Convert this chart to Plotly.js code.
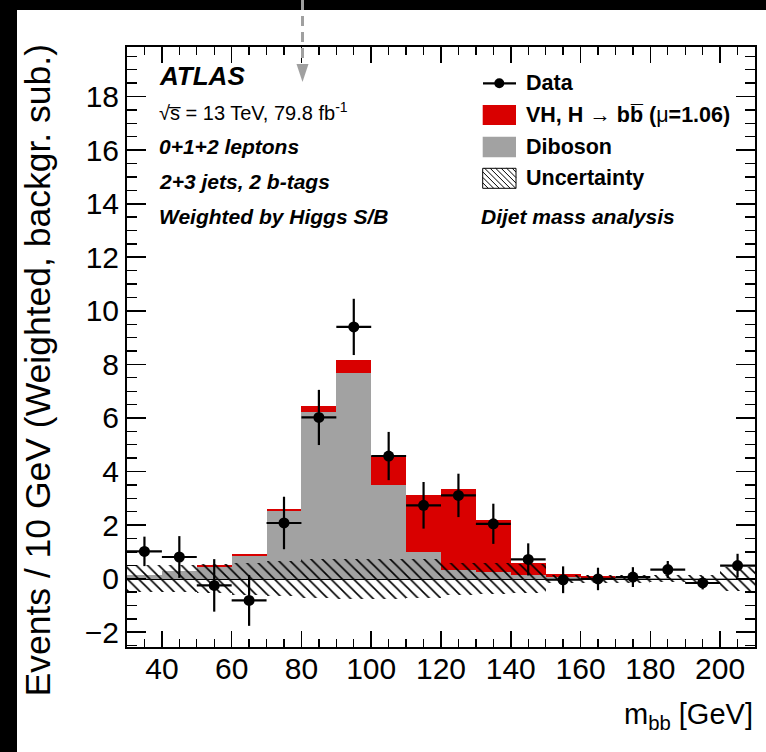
<!DOCTYPE html>
<html><head><meta charset="utf-8">
<script src="https://cdn.plot.ly/plotly-3.0.1.min.js"></script>
<style>html,body{margin:0;padding:0;background:#000;overflow:hidden}#chart{width:766px;height:752px}</style>
</head><body><div id="chart"></div>
<script>
// ---- data ----
const binCenters = [35,45,55,65,75,85,95,105,115,125,135,145,155,165,175,185,195,205];
const binWidths  = [10,10,10,10,10,10,10,10,10,10,10,10,10,10,10,10,10,10];
const diboson    = [0.12,0.27,0.44,0.85,2.53,6.23,7.68,3.49,0.99,0.31,0.25,0.12,0.05,0.03,0.02,0.01,0.01,0.01];
const vhSignal   = [0.02,0.03,0.06,0.07,0.09,0.21,0.50,1.09,2.12,3.05,1.93,0.46,0.14,0.07,0.03,0.02,0.01,0.01];
const uncertainty= [0.50,0.50,0.55,0.60,0.65,0.72,0.75,0.75,0.72,0.60,0.58,0.55,0.15,0.15,0.15,0.12,0.15,0.45];
const dataValues = [1.02,0.81,-0.25,-0.81,2.08,6.02,9.40,4.58,2.74,3.11,2.05,0.72,-0.04,-0.01,0.06,0.34,-0.16,0.49];
const dataErrors = [0.55,0.78,0.98,0.95,0.98,1.03,1.05,0.90,0.87,0.81,0.75,0.60,0.50,0.42,0.37,0.32,0.24,0.44];
const halfBin    = binWidths.map(w => w/2);
const uncLow     = uncertainty.map(u => -u);
const uncSpan    = uncertainty.map(u => 2*u);
const vhBase     = diboson.slice();

const FONT = 'Liberation Sans, Arial, Helvetica, sans-serif';
const RED = '#d90000', GRAY = '#a2a2a2';

// pixel -> paper helpers for decorations
const L = 127, T = 47, W = 628, H = 600;
const px = x => (x - L) / W;
const py = y => (T + H - y) / H;

const traces = [
  {type:'bar', x:binCenters, y:diboson, width:binWidths, base:0,
   marker:{color:GRAY, line:{width:0}}, name:'Diboson', hoverinfo:'skip'},
  {type:'bar', x:binCenters, y:vhSignal, width:binWidths, base:vhBase,
   marker:{color:RED, line:{width:0}}, name:'VH, H → bb', hoverinfo:'skip'},
  {type:'bar', x:binCenters, y:uncSpan, width:binWidths, base:uncLow,
   marker:{color:'rgba(0,0,0,0)', line:{width:0},
     pattern:{shape:'\\', size:8, solidity:0.2, fgcolor:'#000', fgopacity:1,
              bgcolor:'rgba(0,0,0,0)', fillmode:'overlay'}},
   name:'Uncertainty', hoverinfo:'skip'},
  {type:'scatter', mode:'markers', x:binCenters, y:dataValues,
   marker:{color:'#000', size:11},
   error_y:{type:'data', array:dataErrors, visible:true, color:'#000', thickness:2.2, width:0},
   error_x:{type:'data', array:halfBin, visible:true, color:'#000', thickness:2.2, width:0},
   name:'Data'}
];

// legend hatch box lines
function hatchPath(x0, y0, x1, y1, step) {
  const w = x1 - x0, h = y1 - y0;
  let p = '';
  for (let d = -h; d < w; d += step) {
    let sx = x0 + d, sy = y0, ex = x0 + d + h, ey = y1;
    if (sx < x0) { sy = y0 + (x0 - sx); sx = x0; }
    if (ex > x1) { ey = y1 - (ex - x1); ex = x1; }
    p += 'M' + px(sx) + ',' + py(sy) + 'L' + px(ex) + ',' + py(ey);
  }
  return p;
}

const shapes = [
  {type:'rect', xref:'paper', yref:'paper', x0:px(17), x1:px(770), y0:py(10), y1:py(760),
   fillcolor:'#fff', line:{width:0}, layer:'below'},
  {type:'line', xref:'paper', yref:'paper', x0:px(302.5), x1:px(302.5), y0:py(0), y1:py(66),
   line:{color:'#a0a0a0', width:3, dash:'10px,6px'}},
  {type:'path', xref:'paper', yref:'paper',
   path:'M'+px(296.5)+','+py(64)+'L'+px(308.5)+','+py(64)+'L'+px(302.5)+','+py(82)+'Z',
   fillcolor:'#a0a0a0', line:{width:0}},
  {type:'line', xref:'paper', yref:'paper', x0:px(483), x1:px(516), y0:py(83.3), y1:py(83.3),
   line:{color:'#000', width:2.2}},
  {type:'circle', xref:'paper', yref:'paper', x0:px(494.3), x1:px(504.3), y0:py(78.3), y1:py(88.3),
   fillcolor:'#000', line:{width:0}},
  {type:'rect', xref:'paper', yref:'paper', x0:px(482.7), x1:px(516), y0:py(105), y1:py(125),
   fillcolor:RED, line:{width:0}},
  {type:'rect', xref:'paper', yref:'paper', x0:px(482.7), x1:px(516), y0:py(136.7), y1:py(157.3),
   fillcolor:GRAY, line:{width:0}},
  {type:'path', xref:'paper', yref:'paper', path:hatchPath(482.7,168.3,516,188.3,5.5),
   line:{color:'#000', width:1}},
  {type:'rect', xref:'paper', yref:'paper', x0:px(482.7), x1:px(516), y0:py(168.3), y1:py(188.3),
   fillcolor:'rgba(0,0,0,0)', line:{color:'#000', width:1}}
];

function txt(text, x, y, size, opts) {
  return Object.assign({text:text, xref:'paper', yref:'paper', x:px(x), y:py(y),
    xanchor:'left', yanchor:'middle', showarrow:false,
    font:{family:FONT, size:size, color:'#000'}}, opts||{});
}

const annotations = [
  txt('<b><i>ATLAS</i></b>', 157, 76, 26),
  txt('√s\u0305 = 13 TeV, 79.8 fb<sup>-1</sup>', 157, 112, 20),
  txt('<b><i>0+1+2 leptons</i></b>', 157, 147, 21),
  txt('<b><i>2+3 jets, 2 b-tags</i></b>', 157, 181.5, 21),
  txt('<b><i>Weighted by Higgs S/B</i></b>', 157, 216.5, 21),
  txt('<b>Data</b>', 524, 83, 21.5),
  txt('<b>VH, H </b>→<b> bb\u0305 (</b>μ<b>=1.06)</b>', 524, 115, 21.5),
  txt('<b>Diboson</b>', 524, 147, 21.5),
  txt('<b>Uncertainty</b>', 524, 177.5, 21.5),
  txt('<b><i>Dijet mass analysis</i></b>', 479, 216.5, 21),
  txt('Events / 10 GeV (Weighted, backgr. sub.)', 37, 42, 35.5,
      {xanchor:'center', yanchor:'top', textangle:-90}),
  txt('m<sub>bb</sub> [GeV]', 755, 716, 29, {xanchor:'right', yanchor:'middle'})
];

const layout = {
  width:766, height:752,
  margin:{l:L, r:766-L-W, t:T, b:752-T-H, pad:0, autoexpand:false},
  paper_bgcolor:'#000', plot_bgcolor:'#fff',
  barmode:'overlay', bargap:0, showlegend:false,
  font:{family:FONT, color:'#000'},
  xaxis:{range:[30,210], tick0:0, dtick:20, ticks:'inside', ticklen:16, tickwidth:1.6,
    tickcolor:'#000', showline:true, linecolor:'#000', linewidth:2, mirror:'ticks',
    showgrid:false, zeroline:false, tickfont:{family:FONT, size:30, color:'#000'},
    ticklabelstandoff:-6,
    minor:{dtick:5, ticks:'inside', ticklen:8, tickwidth:1.4, tickcolor:'#000', showgrid:false},
    automargin:false, fixedrange:true},
  yaxis:{range:[-2.55,19.85], tick0:0, dtick:2, ticks:'inside', ticklen:19, tickwidth:1.6,
    tickcolor:'#000', showline:true, linecolor:'#000', linewidth:2, mirror:'ticks',
    showgrid:false, zeroline:true, zerolinecolor:'#000', zerolinewidth:1.6,
    tickfont:{family:FONT, size:30, color:'#000'},
    minor:{dtick:0.5, ticks:'inside', ticklen:10, tickwidth:1.4, tickcolor:'#000', showgrid:false},
    automargin:false, fixedrange:true},
  shapes:shapes,
  annotations:annotations
};

Plotly.newPlot('chart', traces, layout, {staticPlot:true, displayModeBar:false});
</script>
</body></html>
